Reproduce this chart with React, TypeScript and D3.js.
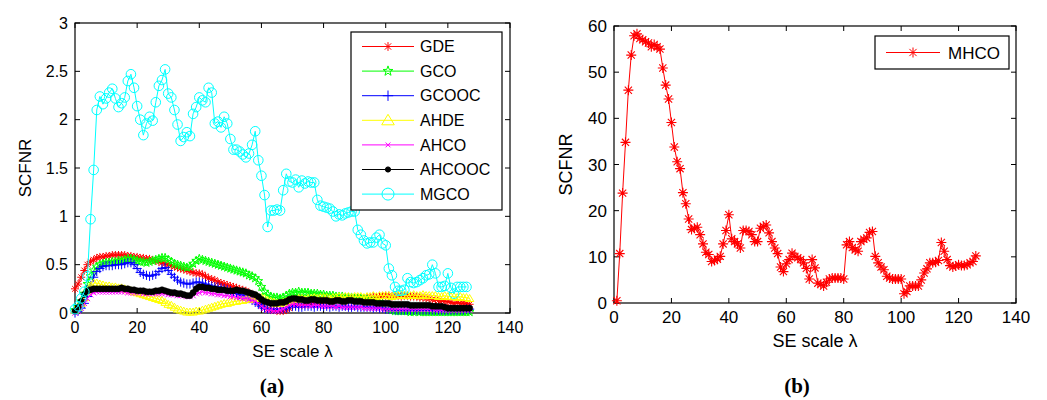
import React from "react";
import * as d3 from "d3";

// ---------- DATA ----------
const xTicks = [0, 20, 40, 60, 80, 100, 120, 140];
const yTicksA = [0, 0.5, 1, 1.5, 2, 2.5, 3];
const yTicksB = [0, 10, 20, 30, 40, 50, 60];
const seriesNamesA = ["GDE", "GCO", "GCOOC", "AHDE", "AHCO", "AHCOOC", "MGCO"];
const seriesNameB = "MHCO";

// x = 0..127
const GDE = [
  0.25, 0.30, 0.37, 0.44, 0.50, 0.53, 0.55, 0.57, 0.58, 0.58,
  0.59, 0.59, 0.60, 0.60, 0.60, 0.60, 0.60, 0.59, 0.59, 0.58,
  0.58, 0.57, 0.57, 0.56, 0.56, 0.55, 0.54, 0.53, 0.52, 0.51,
  0.50, 0.49, 0.48, 0.47, 0.46, 0.45, 0.44, 0.43, 0.42, 0.41,
  0.41, 0.40, 0.38, 0.36, 0.35, 0.34, 0.32, 0.31, 0.30, 0.29,
  0.28, 0.27, 0.26, 0.25, 0.24, 0.23, 0.21, 0.19, 0.17, 0.13,
  0.08, 0.05, 0.04, 0.03, 0.03, 0.02, 0.02, 0.02, 0.03, 0.05,
  0.08, 0.09, 0.08, 0.08, 0.09, 0.09, 0.10, 0.11, 0.11, 0.12,
  0.12, 0.13, 0.12, 0.13, 0.13, 0.14, 0.13, 0.14, 0.14, 0.15,
  0.14, 0.15, 0.15, 0.15, 0.16, 0.16, 0.17, 0.16, 0.17, 0.17,
  0.18, 0.18, 0.17, 0.18, 0.18, 0.17, 0.18, 0.18, 0.17, 0.17,
  0.17, 0.16, 0.16, 0.15, 0.15, 0.14, 0.14, 0.13, 0.13, 0.12,
  0.12, 0.11, 0.10, 0.11, 0.10, 0.10, 0.10, 0.09,
];
const GCO = [
  0.03, 0.06, 0.12, 0.20, 0.30, 0.38, 0.44, 0.48, 0.50, 0.51,
  0.52, 0.52, 0.53, 0.53, 0.54, 0.54, 0.55, 0.56, 0.56, 0.55,
  0.54, 0.53, 0.53, 0.52, 0.53, 0.54, 0.55, 0.56, 0.57, 0.57,
  0.55, 0.53, 0.51, 0.50, 0.49, 0.48, 0.47, 0.48, 0.51, 0.54,
  0.56, 0.55, 0.54, 0.53, 0.52, 0.51, 0.50, 0.49, 0.48, 0.47,
  0.46, 0.45, 0.44, 0.43, 0.42, 0.41, 0.39, 0.38, 0.36, 0.33,
  0.27, 0.22, 0.19, 0.17, 0.16, 0.16, 0.15, 0.16, 0.18, 0.20,
  0.21, 0.21, 0.22, 0.21, 0.21, 0.21, 0.20, 0.20, 0.20, 0.19,
  0.19, 0.18, 0.18, 0.18, 0.17, 0.17, 0.17, 0.16, 0.16, 0.16,
  0.15, 0.15, 0.15, 0.14, 0.14, 0.13, 0.13, 0.12, 0.11, 0.09,
  0.06, 0.04, 0.03, 0.02, 0.02, 0.02, 0.02, 0.02, 0.01, 0.01,
  0.02, 0.01, 0.01, 0.01, 0.01, 0.01, 0.01, 0.01, 0.01, 0.01,
  0.01, 0.01, 0.01, 0.01, 0.01, 0.01, 0.01, 0.01,
];
const GCOOC = [
  0.00, 0.02, 0.05, 0.10, 0.17, 0.28, 0.37, 0.43, 0.46, 0.48,
  0.49, 0.49, 0.49, 0.50, 0.50, 0.50, 0.51, 0.52, 0.52, 0.50,
  0.46, 0.42, 0.40, 0.39, 0.38, 0.39, 0.40, 0.43, 0.46, 0.47,
  0.44, 0.40, 0.37, 0.34, 0.32, 0.31, 0.30, 0.30, 0.31, 0.32,
  0.32, 0.31, 0.30, 0.29, 0.28, 0.27, 0.27, 0.26, 0.25, 0.24,
  0.23, 0.21, 0.20, 0.19, 0.18, 0.17, 0.15, 0.13, 0.11, 0.09,
  0.07, 0.05, 0.04, 0.04, 0.04, 0.04, 0.04, 0.04, 0.05, 0.06,
  0.07, 0.07, 0.06, 0.06, 0.07, 0.07, 0.07, 0.06, 0.07, 0.07,
  0.07, 0.07, 0.06, 0.07, 0.07, 0.06, 0.07, 0.07, 0.06, 0.06,
  0.07, 0.06, 0.06, 0.06, 0.06, 0.06, 0.05, 0.06, 0.05, 0.05,
  0.04, 0.04, 0.04, 0.03, 0.03, 0.03, 0.03, 0.03, 0.03, 0.03,
  0.03, 0.03, 0.03, 0.03, 0.03, 0.03, 0.03, 0.03, 0.03, 0.03,
  0.03, 0.03, 0.03, 0.03, 0.03, 0.03, 0.04, 0.04,
];
const AHDE = [
  0.03, 0.06, 0.10, 0.16, 0.22, 0.28, 0.31, 0.31, 0.30, 0.29,
  0.28, 0.28, 0.27, 0.27, 0.26, 0.26, 0.25, 0.24, 0.23, 0.22,
  0.21, 0.20, 0.19, 0.18, 0.17, 0.16, 0.15, 0.14, 0.13, 0.11,
  0.09, 0.08, 0.06, 0.04, 0.03, 0.02, 0.01, 0.01, 0.01, 0.02,
  0.02, 0.03, 0.04, 0.05, 0.06, 0.07, 0.08, 0.09, 0.10, 0.10,
  0.11, 0.12, 0.12, 0.13, 0.13, 0.14, 0.14, 0.15, 0.15, 0.16,
  0.16, 0.15, 0.13, 0.12, 0.11, 0.10, 0.10, 0.11, 0.12, 0.13,
  0.14, 0.14, 0.15, 0.15, 0.14, 0.15, 0.15, 0.16, 0.15, 0.16,
  0.16, 0.16, 0.15, 0.16, 0.16, 0.17, 0.16, 0.17, 0.17, 0.16,
  0.17, 0.17, 0.17, 0.16, 0.17, 0.17, 0.18, 0.17, 0.18, 0.18,
  0.18, 0.18, 0.17, 0.18, 0.18, 0.19, 0.18, 0.18, 0.18, 0.19,
  0.18, 0.18, 0.19, 0.18, 0.18, 0.18, 0.18, 0.17, 0.17, 0.18,
  0.17, 0.17, 0.17, 0.16, 0.17, 0.16, 0.16, 0.15,
];
const AHCO = [
  0.00, 0.02, 0.05, 0.10, 0.15, 0.19, 0.21, 0.22, 0.22, 0.22,
  0.22, 0.22, 0.22, 0.22, 0.22, 0.22, 0.22, 0.21, 0.21, 0.21,
  0.21, 0.21, 0.20, 0.20, 0.20, 0.20, 0.20, 0.20, 0.20, 0.20,
  0.19, 0.19, 0.19, 0.18, 0.18, 0.18, 0.17, 0.17, 0.18, 0.20,
  0.21, 0.22, 0.21, 0.21, 0.20, 0.20, 0.19, 0.19, 0.18, 0.18,
  0.17, 0.17, 0.16, 0.16, 0.15, 0.15, 0.14, 0.13, 0.12, 0.10,
  0.07, 0.05, 0.03, 0.03, 0.02, 0.02, 0.03, 0.04, 0.06, 0.08,
  0.09, 0.09, 0.08, 0.08, 0.08, 0.08, 0.07, 0.08, 0.08, 0.07,
  0.07, 0.07, 0.07, 0.07, 0.06, 0.07, 0.06, 0.06, 0.06, 0.06,
  0.06, 0.06, 0.06, 0.05, 0.05, 0.05, 0.05, 0.05, 0.05, 0.04,
  0.04, 0.04, 0.04, 0.04, 0.04, 0.04, 0.04, 0.04, 0.04, 0.04,
  0.04, 0.04, 0.04, 0.04, 0.04, 0.04, 0.03, 0.03, 0.03, 0.03,
  0.03, 0.03, 0.03, 0.03, 0.03, 0.03, 0.03, 0.03,
];
const AHCOOC = [
  0.02, 0.06, 0.12, 0.19, 0.23, 0.24, 0.25, 0.25, 0.25, 0.25,
  0.25, 0.25, 0.25, 0.25, 0.25, 0.26, 0.25, 0.25, 0.24, 0.24,
  0.23, 0.23, 0.23, 0.22, 0.22, 0.22, 0.23, 0.23, 0.24, 0.23,
  0.22, 0.21, 0.21, 0.20, 0.20, 0.19, 0.18, 0.18, 0.21, 0.25,
  0.27, 0.27, 0.26, 0.26, 0.25, 0.25, 0.24, 0.24, 0.24, 0.23,
  0.23, 0.23, 0.24, 0.23, 0.23, 0.22, 0.21, 0.20, 0.19, 0.17,
  0.14, 0.12, 0.11, 0.10, 0.10, 0.10, 0.11, 0.11, 0.12, 0.14,
  0.15, 0.15, 0.14, 0.14, 0.13, 0.13, 0.14, 0.14, 0.13, 0.13,
  0.13, 0.13, 0.12, 0.12, 0.13, 0.13, 0.12, 0.12, 0.13, 0.13,
  0.12, 0.12, 0.12, 0.11, 0.11, 0.11, 0.11, 0.10, 0.10, 0.10,
  0.10, 0.10, 0.09, 0.09, 0.09, 0.09, 0.09, 0.09, 0.08, 0.08,
  0.08, 0.08, 0.08, 0.08, 0.08, 0.07, 0.07, 0.07, 0.07, 0.06,
  0.05, 0.05, 0.05, 0.05, 0.05, 0.05, 0.05, 0.05,
];
// x = 0..126
const MGCO = [
  0.04, 0.07, 0.15, 0.22, 0.38, 0.97, 1.48, 2.10, 2.24, 2.16,
  2.22, 2.28, 2.32, 2.22, 2.13, 2.17, 2.23, 2.40, 2.47, 2.33,
  2.14, 2.00, 1.84, 1.96, 2.03, 1.99, 2.18, 2.35, 2.41, 2.52,
  2.27, 2.23, 2.10, 1.95, 1.78, 1.82, 1.87, 1.83, 2.06, 2.13,
  2.23, 2.20, 2.18, 2.33, 2.28, 1.96, 1.98, 1.92, 2.03, 1.96,
  1.80, 1.69, 1.69, 1.67, 1.64, 1.61, 1.65, 1.74, 1.88, 1.58,
  1.42, 1.22, 0.89, 1.06, 1.06, 1.07, 1.06, 1.27, 1.44, 1.36,
  1.35, 1.38, 1.30, 1.37, 1.34, 1.36, 1.35, 1.35, 1.17, 1.11,
  1.10, 1.09, 1.08, 1.05, 1.00, 1.02, 1.01, 1.03, 1.04, 1.05,
  1.05, 0.86, 0.81, 0.75, 0.72, 0.73, 0.73, 0.78, 0.81, 0.72,
  0.70, 0.46, 0.39, 0.27, 0.23, 0.23, 0.24, 0.36, 0.32, 0.31,
  0.32, 0.34, 0.36, 0.39, 0.40, 0.50, 0.41, 0.27, 0.27, 0.28,
  0.41, 0.26, 0.20, 0.27, 0.27, 0.27, 0.27,
];
// x = 1..126
const MHCO = [
  0.5, 10.7, 23.8, 34.8, 46.1, 53.7, 57.9, 58.3, 57.3, 57.0,
  56.6, 56.3, 55.5, 56.0, 55.5, 55.0, 50.9, 47.2, 44.2, 39.1,
  33.8, 30.6, 29.1, 23.9, 21.5, 18.2, 15.9, 16.2, 16.4, 14.8,
  12.8, 11.0, 10.5, 9.0, 9.2, 9.5, 10.1, 12.8, 15.7, 19.1,
  13.9, 13.3, 12.8, 11.9, 15.7, 15.7, 15.5, 14.8, 13.3, 13.3,
  16.2, 16.6, 16.9, 15.2, 13.3, 11.9, 10.7, 7.8, 6.8, 8.5,
  9.4, 10.8, 10.1, 9.8, 9.4, 8.7, 7.5, 5.2, 9.4, 7.6,
  4.3, 4.0, 3.7, 4.5, 5.2, 5.4, 5.4, 5.4, 5.4, 5.2,
  12.6, 13.3, 12.0, 11.5, 11.2, 13.3, 13.8, 14.1, 15.3, 15.5,
  10.1, 8.7, 7.8, 7.2, 5.8, 5.4, 5.2, 5.2, 5.2, 5.2,
  2.0, 2.5, 3.7, 3.7, 3.7, 3.7, 5.0, 6.5, 7.4, 8.7,
  8.7, 8.8, 9.2, 13.1, 11.2, 9.4, 8.1, 7.8, 8.0, 8.3,
  8.1, 8.1, 8.3, 8.7, 9.0, 10.2,
];

// ---------- STYLE ----------
const FONT = "'Liberation Sans', Arial, sans-serif";
const SERIF = "'Liberation Serif', 'DejaVu Serif', serif";
type Mk = "star" | "penta" | "plus" | "tri" | "cross" | "dot" | "circle";
const seriesA: { name: string; data: number[]; color: string; mk: Mk }[] = [
  { name: seriesNamesA[0], data: GDE, color: "#ff0000", mk: "star" },
  { name: seriesNamesA[1], data: GCO, color: "#00ff00", mk: "penta" },
  { name: seriesNamesA[2], data: GCOOC, color: "#0000ff", mk: "plus" },
  { name: seriesNamesA[3], data: AHDE, color: "#ffff00", mk: "tri" },
  { name: seriesNamesA[4], data: AHCO, color: "#ff00ff", mk: "cross" },
  { name: seriesNamesA[5], data: AHCOOC, color: "#000000", mk: "dot" },
  { name: seriesNamesA[6], data: MGCO, color: "#00ffff", mk: "circle" },
];

function markerPath(mk: Mk, x: number, y: number, s: number): string {
  switch (mk) {
    case "star": {
      const d = s * 0.72;
      return `M${x - s},${y}h${2 * s}M${x},${y - s}v${2 * s}M${x - d},${y - d}l${2 * d},${2 * d}M${x - d},${y + d}l${2 * d},${-2 * d}`;
    }
    case "plus":
      return `M${x - s},${y}h${2 * s}M${x},${y - s}v${2 * s}`;
    case "cross": {
      const d = s * 0.75;
      return `M${x - d},${y - d}l${2 * d},${2 * d}M${x - d},${y + d}l${2 * d},${-2 * d}`;
    }
    case "tri":
      return `M${x},${y - s}L${x + s * 1.05},${y + s * 0.75}L${x - s * 1.05},${y + s * 0.75}Z`;
    case "penta": {
      const pts: string[] = [];
      for (let i = 0; i < 10; i++) {
        const r = i % 2 === 0 ? s : s * 0.4;
        const a = -Math.PI / 2 + (i * Math.PI) / 5;
        pts.push(`${x + r * Math.cos(a)},${y + r * Math.sin(a)}`);
      }
      return "M" + pts.join("L") + "Z";
    }
    case "circle":
    case "dot":
      return `M${x + s},${y}A${s},${s} 0 1 1 ${x - s},${y}A${s},${s} 0 1 1 ${x + s},${y}Z`;
  }
  return "";
}

const markerSize: Record<Mk, number> = {
  star: 4, penta: 4.6, plus: 4.6, tri: 4, cross: 3.6, dot: 3.1, circle: 4.8,
};
const legendSize: Record<Mk, number> = {
  star: 4.4, penta: 5.2, plus: 5.2, tri: 6, cross: 3.2, dot: 2.6, circle: 6,
};

function Frame({ x, y, ticksX, ticksY, fs, lfs, yLabelOff }: any) {
  const [x0, x1] = x.range();
  const [y0, y1] = y.range(); // y0 bottom, y1 top
  const tl = 5;
  return (
    <g>
      <rect x={x0} y={y1} width={x1 - x0} height={y0 - y1} fill="none" stroke="#000" strokeWidth={1.2} />
      {ticksX.map((t: number) => (
        <g key={"x" + t}>
          <line x1={x(t)} x2={x(t)} y1={y0} y2={y0 - tl} stroke="#000" />
          <line x1={x(t)} x2={x(t)} y1={y1} y2={y1 + tl} stroke="#000" />
          <text x={x(t)} y={y0 + 20} textAnchor="middle" fontFamily={FONT} fontSize={fs} fill="#000">{t}</text>
        </g>
      ))}
      {ticksY.map((t: number) => (
        <g key={"y" + t}>
          <line x1={x0} x2={x0 + tl} y1={y(t)} y2={y(t)} stroke="#000" />
          <line x1={x1} x2={x1 - tl} y1={y(t)} y2={y(t)} stroke="#000" />
          <text x={x0 - 7} y={y(t)} dy="0.36em" textAnchor="end" fontFamily={FONT} fontSize={fs} fill="#000">{String(t)}</text>
        </g>
      ))}
      <text x={(x0 + x1) / 2} y={y0 + 44} textAnchor="middle" fontFamily={FONT} fontSize={lfs} fill="#000">SE scale λ</text>
      <text transform={`translate(${x0 - yLabelOff},${(y0 + y1) / 2}) rotate(-90)`} textAnchor="middle" fontFamily={FONT} fontSize={lfs} fill="#000">SCFNR</text>
    </g>
  );
}

export default function App() {
  const xA = d3.scaleLinear().domain([0, 140]).range([75, 510]);
  const yA = d3.scaleLinear().domain([0, 3]).range([313, 23]);
  const xB = d3.scaleLinear().domain([0, 140]).range([614, 1016]);
  const yB = d3.scaleLinear().domain([0, 60]).range([303, 26]);

  const lineA = d3.line<[number, number]>().x((d) => xA(d[0])).y((d) => yA(d[1]));
  const lineB = d3.line<[number, number]>().x((d) => xB(d[0])).y((d) => yB(d[1]));

  const legX0 = 351, legY0 = 32, legW = 151, legRow = 24.6;
  const bPts: [number, number][] = MHCO.map((v, i) => [i + 1, v]);

  return (
    <svg width={1047} height={400} style={{ position: "absolute", left: 0, top: 0, background: "#fff" }}>
      {/* Chart (a) */}
      <Frame x={xA} y={yA} ticksX={xTicks} ticksY={yTicksA} fs={16} lfs={17} yLabelOff={44} />
      {seriesA.map((s) => {
        const pts: [number, number][] = s.data.map((v, i) => [i, v]);
        const mp = pts.map((p) => markerPath(s.mk, xA(p[0]), yA(p[1]), markerSize[s.mk])).join("");
        return (
          <g key={s.name}>
            <path d={lineA(pts) || ""} fill="none" stroke={s.color} strokeWidth={1} />
            <path d={mp} fill={s.mk === "dot" ? s.color : "none"} stroke={s.color} strokeWidth={s.mk === "dot" ? 0.5 : 1} />
          </g>
        );
      })}
      {/* legend (a) */}
      <rect x={legX0} y={legY0} width={legW} height={178} fill="#fff" stroke="#000" strokeWidth={1.2} />
      {seriesA.map((s, i) => {
        const cy = legY0 + 14.5 + i * legRow;
        return (
          <g key={"lg" + s.name}>
            <line x1={362} x2={414} y1={cy} y2={cy} stroke={s.color} strokeWidth={1} />
            <path d={markerPath(s.mk, 388, cy, legendSize[s.mk])} fill={s.mk === "dot" ? s.color : "none"} stroke={s.color} strokeWidth={1} />
            <text x={420} y={cy} dy="0.36em" fontFamily={FONT} fontSize={16} fill="#000">{s.name}</text>
          </g>
        );
      })}
      <text x={272} y={393} textAnchor="middle" fontFamily={SERIF} fontSize={21} fontWeight="bold" fill="#000">(a)</text>

      {/* Chart (b) */}
      <Frame x={xB} y={yB} ticksX={xTicks} ticksY={yTicksB} fs={17} lfs={18} yLabelOff={42} />
      <path d={lineB(bPts) || ""} fill="none" stroke="#ff0000" strokeWidth={1} />
      <path d={bPts.map((p) => markerPath("star", xB(p[0]), yB(p[1]), 5)).join("")} fill="none" stroke="#ff0000" strokeWidth={1.1} />
      <rect x={875} y={36} width={134} height={33} fill="#fff" stroke="#000" strokeWidth={1.2} />
      <line x1={886} x2={940} y1={52.5} y2={52.5} stroke="#ff0000" strokeWidth={1} />
      <path d={markerPath("star", 913, 52.5, 5)} fill="none" stroke="#ff0000" strokeWidth={1} />
      <text x={948} y={52.5} dy="0.36em" fontFamily={FONT} fontSize={17} fill="#000">{seriesNameB}</text>
      <text x={797} y={393} textAnchor="middle" fontFamily={SERIF} fontSize={21} fontWeight="bold" fill="#000">(b)</text>
    </svg>
  );
}
